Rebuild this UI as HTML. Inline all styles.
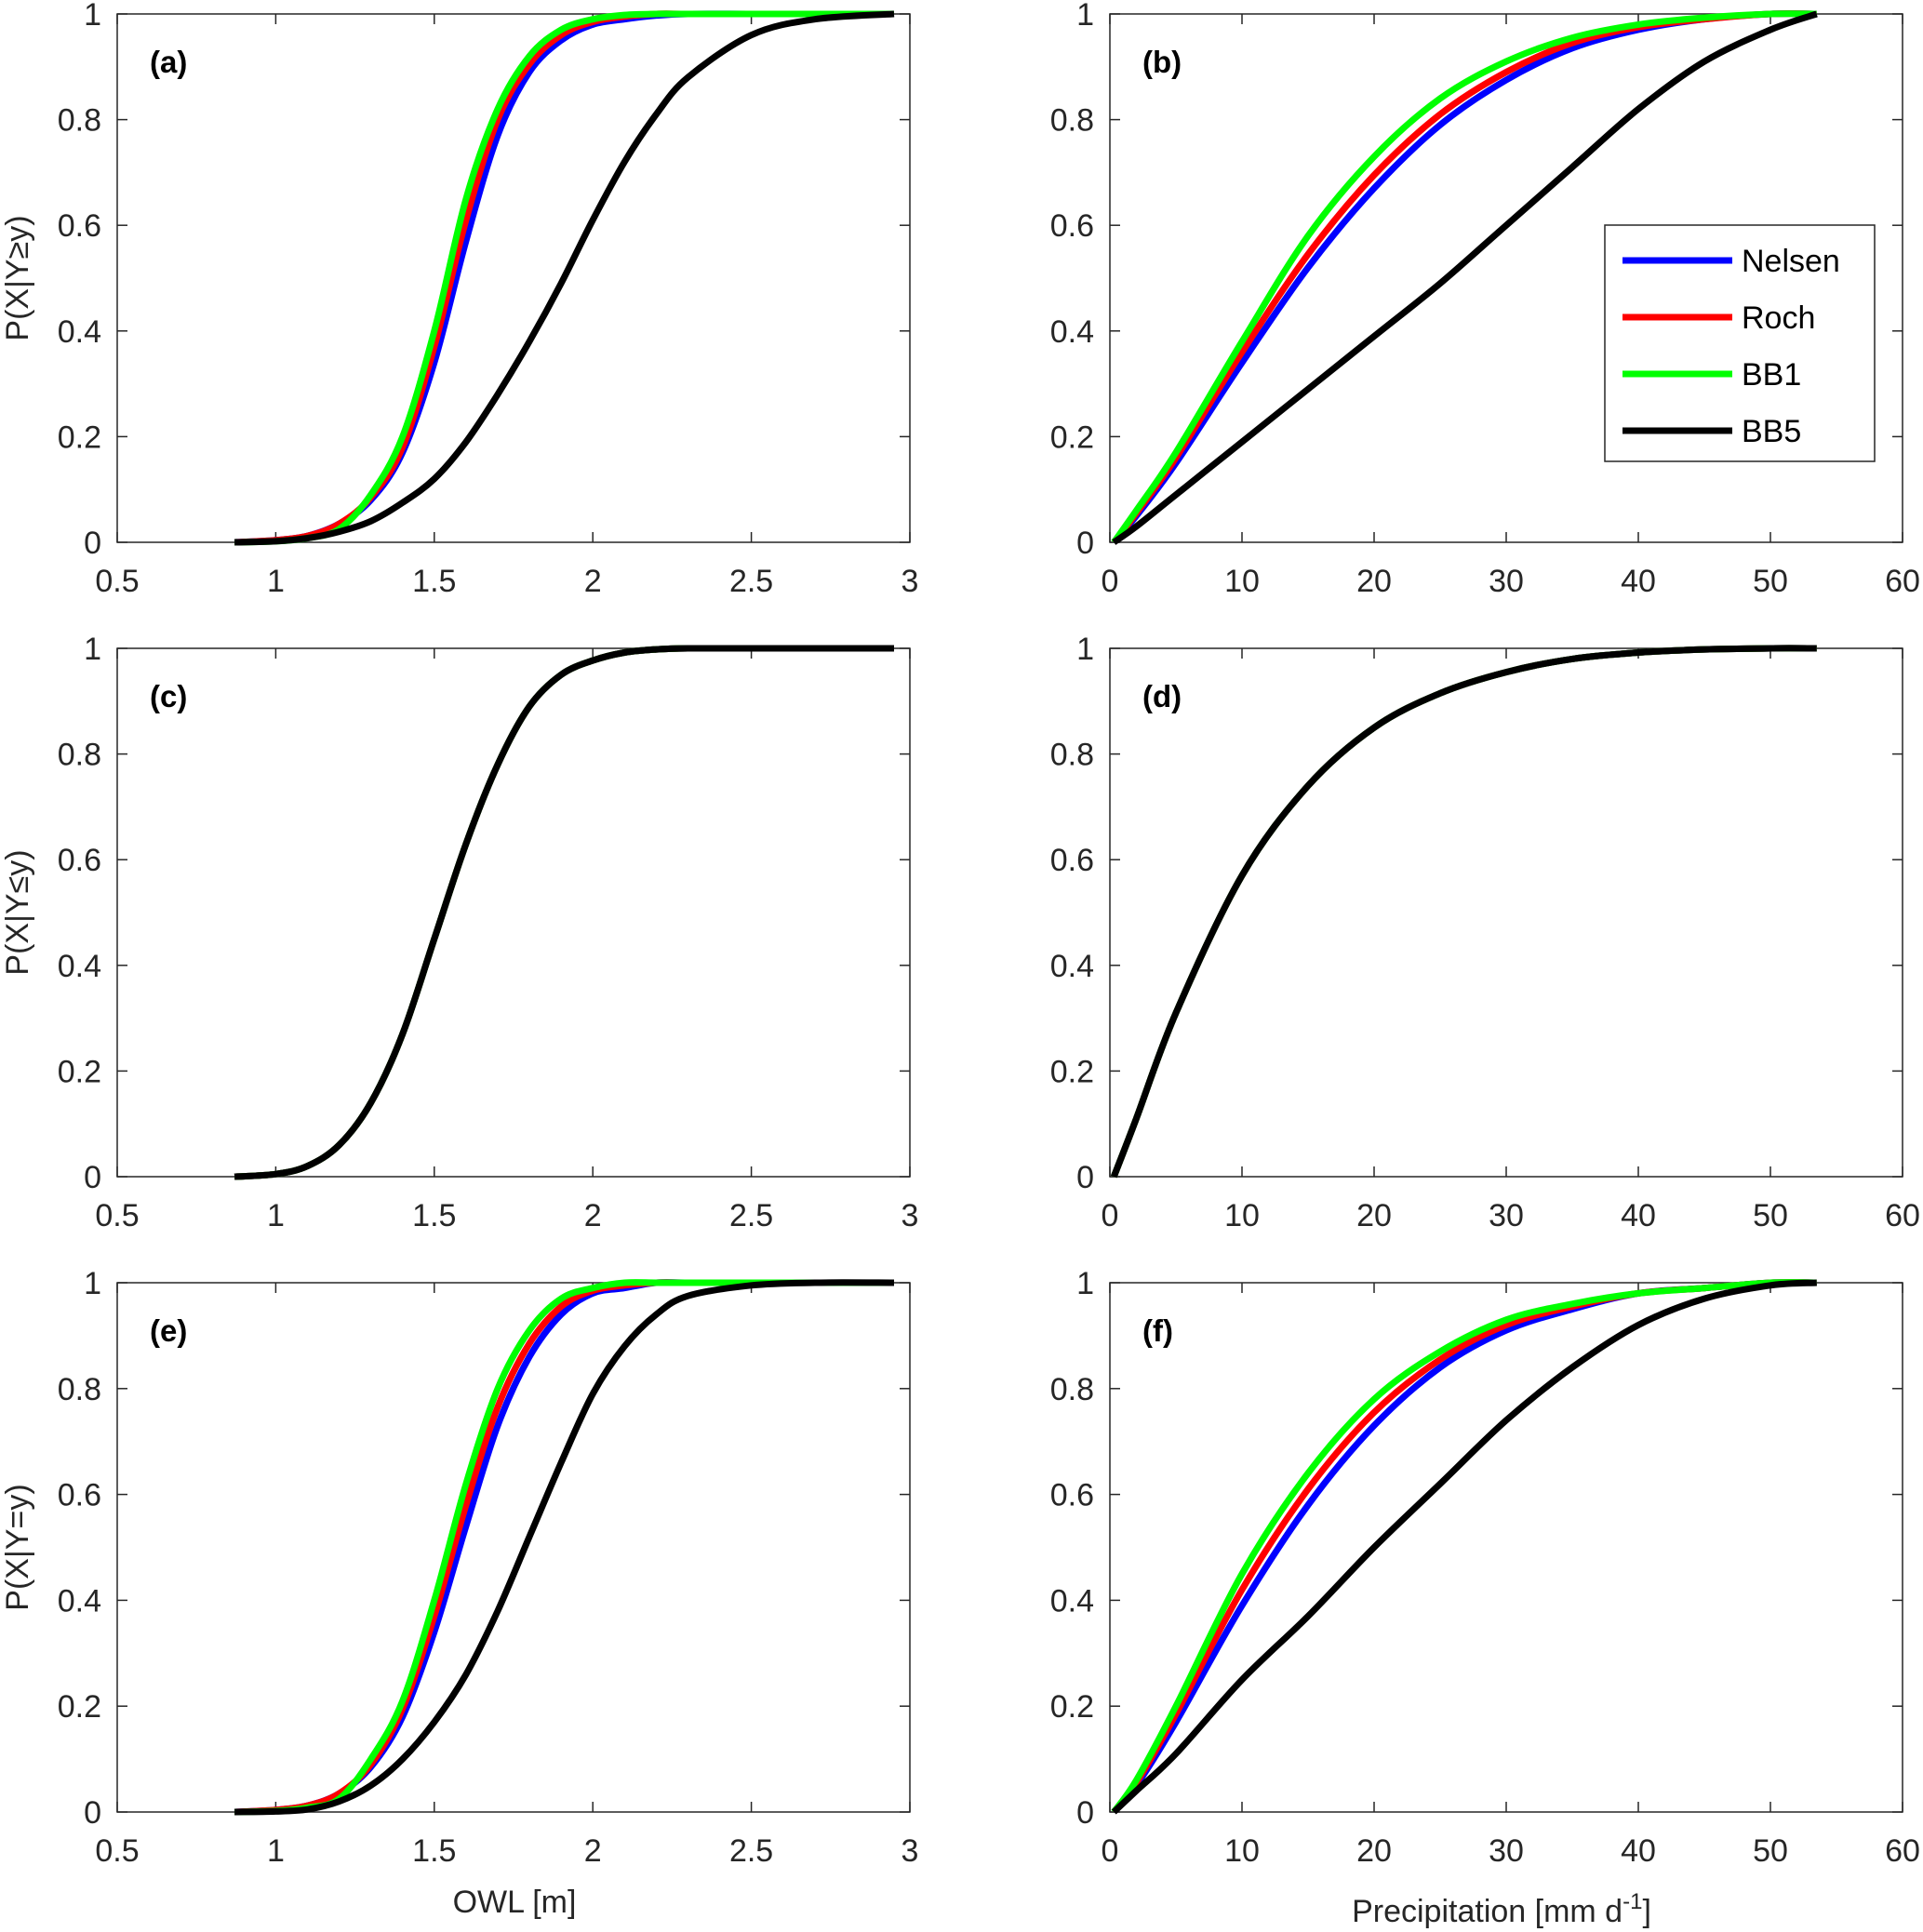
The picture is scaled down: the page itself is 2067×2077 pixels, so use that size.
<!DOCTYPE html>
<html><head><meta charset="utf-8"><style>
html,body{margin:0;padding:0;background:#fff}
svg{display:block;font-family:"Liberation Sans",Arial,sans-serif}
</style></head><body>
<svg id="fig" width="2067" height="2077" viewBox="0 0 2067 2077" xmlns="http://www.w3.org/2000/svg"></svg>
<script>
const owlX=[0.87,1.0,1.1,1.2,1.3,1.4,1.5,1.6,1.7,1.8,1.9,2.0,2.1,2.2,2.3,2.5,2.7,2.95];
const prX=[0.3,2,5,10,15,20,25,30,35,40,45,50,53.5];
// panel a
const aBlue =[0,0.004,0.012,0.035,0.08,0.17,0.34,0.57,0.77,0.89,0.95,0.98,0.99,0.997,1,1,1,1];
const aRed  =[0,0.004,0.012,0.035,0.085,0.18,0.37,0.61,0.80,0.905,0.96,0.985,0.995,1,1,1,1,1];
const aGreen=[0,0.002,0.008,0.025,0.09,0.2,0.40,0.65,0.82,0.92,0.97,0.99,0.998,1,1,1,1,1];
const aBlack=[0,0.002,0.008,0.02,0.04,0.075,0.12,0.19,0.28,0.38,0.49,0.61,0.72,0.81,0.88,0.96,0.99,1];
// panel b
const bBlue =[0,0.05,0.15,0.34,0.52,0.67,0.79,0.875,0.935,0.97,0.99,1,1];
const bRed  =[0,0.055,0.16,0.36,0.545,0.695,0.81,0.89,0.945,0.975,0.99,1,1];
const bGreen=[0,0.06,0.17,0.38,0.58,0.73,0.84,0.91,0.955,0.98,0.993,1,1];
const bBlack=[0,0.03,0.09,0.19,0.29,0.39,0.49,0.6,0.71,0.82,0.91,0.97,1];
// panel c
const cAll  =[0,0.005,0.02,0.06,0.14,0.27,0.45,0.63,0.78,0.89,0.95,0.977,0.992,0.998,1,1,1,1];
// panel d
const dAll  =[0,0.11,0.31,0.57,0.74,0.85,0.915,0.955,0.98,0.992,0.998,1,1];
// panel e
const eBlue =[0,0.004,0.012,0.035,0.085,0.18,0.34,0.54,0.73,0.86,0.94,0.98,0.99,1,1,1,1,1];
const eRed  =[0,0.004,0.012,0.035,0.09,0.195,0.37,0.58,0.765,0.885,0.955,0.985,0.995,1,1,1,1,1];
const eGreen=[0,0.002,0.008,0.025,0.1,0.21,0.40,0.62,0.80,0.91,0.97,0.99,1,1,1,1,1,1];
const eBlack=[0,0.001,0.005,0.02,0.05,0.1,0.17,0.26,0.38,0.52,0.66,0.79,0.88,0.94,0.975,0.995,1,1];
// panel f
const fBlue =[0,0.05,0.17,0.39,0.58,0.73,0.84,0.91,0.95,0.98,0.99,1,1];
const fRed  =[0,0.055,0.185,0.42,0.61,0.755,0.855,0.92,0.955,0.98,0.99,1,1];
const fGreen=[0,0.06,0.2,0.45,0.64,0.78,0.87,0.93,0.96,0.98,0.99,1,1];
const fBlack=[0,0.04,0.11,0.25,0.37,0.5,0.62,0.74,0.84,0.92,0.97,0.995,1];
const owlTicks=["0.5","1","1.5","2","2.5","3"];
const prTicks=["0","10","20","30","40","50","60"];
const yTicks=["0","0.2","0.4","0.6","0.8","1"];
const legendNames=["Nelsen","Roch","BB1","BB5"];
const colors=["#0000ff","#ff0000","#00ff00","#000000"];

const NS="http://www.w3.org/2000/svg";
const svg=document.getElementById('fig');
function mk(tag,attrs,parent){const e=document.createElementNS(NS,tag);for(const k in attrs)e.setAttribute(k,attrs[k]);(parent||svg).appendChild(e);return e;}
const cols=[{l:126,r:978},{l:1193,r:2045}];
const rows=[{t:15,b:583},{t:697,b:1265},{t:1379,b:1948}];
const panels=[
 {c:0,r:0,lab:"(a)",xs:owlX,dom:[0.5,3],ticks:owlTicks,series:[aBlue,aRed,aGreen,aBlack],yl:"P(X|Y\u2265y)"},
 {c:1,r:0,lab:"(b)",xs:prX,dom:[0,60],ticks:prTicks,series:[bBlue,bRed,bGreen,bBlack]},
 {c:0,r:1,lab:"(c)",xs:owlX,dom:[0.5,3],ticks:owlTicks,series:[cAll,cAll,cAll,cAll],yl:"P(X|Y\u2264y)"},
 {c:1,r:1,lab:"(d)",xs:prX,dom:[0,60],ticks:prTicks,series:[dAll,dAll,dAll,dAll]},
 {c:0,r:2,lab:"(e)",xs:owlX,dom:[0.5,3],ticks:owlTicks,series:[eBlue,eRed,eGreen,eBlack],yl:"P(X|Y=y)"},
 {c:1,r:2,lab:"(f)",xs:prX,dom:[0,60],ticks:prTicks,series:[fBlue,fRed,fGreen,fBlack]}
];
function path(pts){let d="M"+pts[0][0]+","+pts[0][1];
 for(let i=0;i<pts.length-1;i++){const p0=pts[Math.max(0,i-1)],p1=pts[i],p2=pts[i+1],p3=pts[Math.min(pts.length-1,i+2)];
  const c1=[p1[0]+(p2[0]-p0[0])/6,p1[1]+(p2[1]-p0[1])/6],c2=[p2[0]-(p3[0]-p1[0])/6,p2[1]-(p3[1]-p1[1])/6];
  d+=" C"+c1[0].toFixed(1)+","+c1[1].toFixed(1)+" "+c2[0].toFixed(1)+","+c2[1].toFixed(1)+" "+p2[0].toFixed(1)+","+p2[1].toFixed(1);}
 return d;}
panels.forEach((p,pi)=>{
 const C=cols[p.c],R=rows[p.r];
 const g=mk('g',{});
 
 
 const xs=v=>C.l+(v-p.dom[0])/(p.dom[1]-p.dom[0])*(C.r-C.l);
 const ys=v=>R.b-v*(R.b-R.t);
 mk('rect',{x:C.l,y:R.t,width:C.r-C.l,height:R.b-R.t,fill:'#fff',stroke:'#262626','stroke-width':1.5},g);
 p.ticks.forEach(t=>{const x=xs(parseFloat(t));
  mk('line',{x1:x,x2:x,y1:R.b,y2:R.b-11,stroke:'#262626','stroke-width':1.5},g);
  mk('line',{x1:x,x2:x,y1:R.t,y2:R.t+11,stroke:'#262626','stroke-width':1.5},g);
  const tx=mk('text',{x:x,y:R.b+53,'text-anchor':'middle','font-size':34,fill:'#262626'},g);tx.textContent=t;
  
  });
 yTicks.forEach(t=>{const y=ys(parseFloat(t));
  mk('line',{x1:C.l,x2:C.l+11,y1:y,y2:y,stroke:'#262626','stroke-width':1.5},g);
  mk('line',{x1:C.r,x2:C.r-11,y1:y,y2:y,stroke:'#262626','stroke-width':1.5},g);
  const tx=mk('text',{x:C.l-17,y:y+12,'text-anchor':'end','font-size':34,fill:'#262626'},g);tx.textContent=t;
  
  });
 p.series.forEach((s,si)=>{
  const pts=p.xs.map((x,i)=>[xs(x),ys(s[i])]);
  const pe=mk('path',{d:path(pts),fill:'none',stroke:colors[si],'stroke-width':7,'stroke-linejoin':'round'},g);
  
  });
 const lb=mk('text',{x:C.l+35,y:R.t+63,'font-size':33,'font-weight':'bold',fill:'#000'},g);lb.textContent=p.lab;
 
 
 if(p.yl){const cy=(R.t+R.b)/2;
  const yt=mk('text',{x:30,y:cy,'text-anchor':'middle','font-size':34,fill:'#262626',transform:'rotate(-90 30 '+cy+')'},g);yt.textContent=p.yl;
  
  }
});
const t1=mk('text',{x:553,y:2056,'text-anchor':'middle','font-size':34,fill:'#262626'});t1.textContent="OWL [m]";


const t2=mk('text',{x:1614,y:2066,'text-anchor':'middle','font-size':34,fill:'#262626'});


t2.innerHTML='Precipitation [mm d<tspan dy="-14" font-size="24">-1</tspan><tspan dy="14">]</tspan>';
const lg=mk('g',{});


mk('rect',{x:1725,y:242,width:290,height:254,fill:'#fff',stroke:'#262626','stroke-width':1.5},lg);
legendNames.forEach((n,i)=>{const y=280+i*61;
 const e=mk('g',{},lg);
 
 
 mk('line',{x1:1744,x2:1862,y1:y,y2:y,stroke:colors[i],'stroke-width':7},e);
 const t=mk('text',{x:1872,y:y+12,'font-size':34,fill:'#000'},e);t.textContent=n;});
</script>
</body></html>
